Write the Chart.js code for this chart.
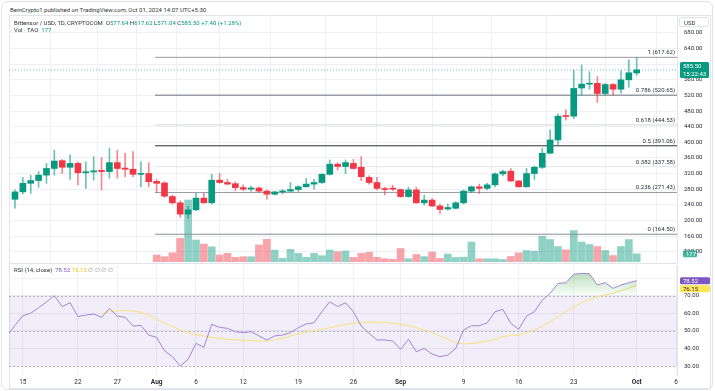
<!DOCTYPE html>
<html>
<head>
<meta charset="utf-8">
<script src="https://cdn.jsdelivr.net/npm/chart.js@4.4.1/dist/chart.umd.min.js"></script>
<style>
  html, body { margin: 0; padding: 0; background: #fff; }
  body { width: 715px; height: 391px; position: relative; overflow: hidden; font-family: Roboto, "Noto Sans", sans-serif; color: #2a2e39; }
  #card { position: absolute; left: 1px; top: 1px; width: 712px; height: 389px; border: 1px solid #e0e3eb; border-radius: 6px; box-sizing: border-box; }
  #frame { position: absolute; left: 9px; top: 15px; width: 702px; height: 374px; border: 1px solid #e0e3eb; box-sizing: border-box; }
  #sep { position: absolute; left: 9px; top: 263px; width: 668px; height: 1px; background: #e0e3eb; }
  #usd { position: absolute; left: 679px; top: 17px; width: 30px; height: 10px; border: 1px solid #e0e3eb; border-radius: 2px; box-sizing: border-box; background: #fff; z-index: 4; }
  #pane1 { position: absolute; left: 9px; top: 15px; }
  #pane2 { position: absolute; left: 9px; top: 263px; }
  .txt { position: absolute; font-size: 6px; line-height: 7px; white-space: nowrap; z-index: 5; }
  .up { color: #089981; }
  .dim { color: #9598a1; }
</style>
</head>
<body>
<div id="card"></div>
<div id="frame"></div>
<div class="txt" style="left:10px;top:6px;color:#333;">BeinCrypto1 published on TradingView.com, Oct 01, 2024 14:07 UTC+5:30</div>
<div id="pane1"><canvas id="priceChart" width="701" height="248"></canvas></div>
<div id="pane2"><canvas id="rsiChart" width="701" height="125"></canvas></div>
<div id="sep"></div>
<div id="usd"></div>
<div class="txt" style="left:14px;top:19px;">Bittensor / USD, 1D, CRYPTOCOM&nbsp; O<span class="up">577.64</span> H<span class="up">617.62</span> L<span class="up">571.04</span> C<span class="up">585.50</span> <span class="up">+7.40 (+1.28%)</span></div>
<div class="txt" style="left:14px;top:26px;">Vol · TAO&nbsp; <span class="up">177</span></div>
<div class="txt" style="left:684px;top:18.5px;color:#2a2e39;">USD</div>
<div class="txt" style="left:14px;top:266px;">RSI (14, close)&nbsp; <span style="color:#7e57c2">78.52</span> <span style="color:#f2c81e">76.15</span> <span class="dim">∅ ∅ ∅ ∅</span></div>

<script>
// ---- data (day index 0 = 2024-07-14, one candle per day) ----
const xTickDays   = [1, 8, 13, 18, 23, 29, 36, 43, 49, 57, 64, 71, 79, 84];
const xTickLabels = ['15', '22', '27', 'Aug', '6', '12', '19', '26', 'Sep', '9', '16', '23', 'Oct', '6'];
const monthLabels = ['Aug', 'Sep', 'Oct'];
const priceTicks  = [120, 160, 200, 240, 280, 320, 360, 400, 440, 480, 520, 560, 600, 640, 680];
const rsiTicks    = [30, 40, 50, 60, 70, 80];

const open = [254, 273, 295, 302, 316, 333, 353, 336, 346, 322,
  324, 328, 325, 348, 334, 331, 318, 320, 300, 296,
  261, 245, 216, 227, 257, 245, 303, 297, 294, 284,
  280, 283, 275, 267, 273, 275, 279, 286, 293, 297,
  318, 344, 338, 346, 336, 310, 297, 280, 282, 279,
  261, 278, 245, 252, 237, 229, 231, 245, 275, 286,
  282, 291, 319, 326, 301, 286, 320, 336, 372, 406,
  468, 467, 539, 549, 551, 525, 548, 536, 560, 577.64];
const high = [278, 310, 316, 325, 346, 380, 356, 368, 350, 350,
  363, 361, 385, 380, 372, 376, 350, 348, 305, 299,
  265, 250, 236, 269, 269, 318, 320, 305, 299, 291,
  288, 286, 278, 274, 279, 297, 289, 308, 305, 320,
  355, 348, 355, 356, 363, 314, 310, 285, 290, 280,
  285, 285, 265, 256, 242, 242, 248, 278, 288, 293,
  295, 322, 329, 333, 302, 333, 339, 385, 432, 473,
  483, 585, 598, 581, 568, 551, 551, 584, 611, 617.62];
const low = [231, 268, 269, 285, 295, 316, 320, 305, 291, 282,
  303, 278, 308, 308, 312, 312, 286, 286, 271, 259,
  242, 208, 205, 225, 244, 242, 295, 291, 276, 276,
  274, 272, 254, 265, 268, 272, 274, 285, 280, 295,
  316, 329, 320, 331, 302, 293, 278, 265, 276, 259,
  259, 244, 239, 235, 218, 226, 229, 242, 271, 269,
  278, 286, 314, 299, 285, 285, 305, 333, 370, 393,
  457, 461, 521, 536, 502, 521, 521, 526, 541, 571.04];
const close = [273, 295, 302, 316, 333, 352, 336, 346, 322, 324,
  327, 325, 348, 333, 331, 318, 320, 299, 295, 262,
  245, 216, 227, 257, 245, 303, 297, 293, 284, 280,
  283, 275, 267, 273, 275, 279, 286, 293, 297, 318,
  344, 338, 348, 333, 312, 297, 282, 279, 280, 261,
  278, 245, 252, 237, 228, 233, 245, 275, 286, 282,
  291, 319, 325, 301, 286, 320, 336, 372, 406, 467,
  466, 538, 549, 551, 525, 548, 536, 560, 578.1, 585.5];

// volume only starts on Aug 1 (day 18)
const volume = [null, null, null, null, null, null, null, null, null, null,
  null, null, null, null, null, null, null, null, 151, 115,
  200, 512, 1340, 475, 389, 330, 151, 188, 102, 115,
  115, 367, 490, 259, 80, 274, 188, 102, 188, 136,
  259, 222, 238, 102, 188, 210, 102, 71, 58, 292,
  71, 162, 117, 216, 76, 173, 97, 104, 432, 69,
  69, 69, 54, 119, 199, 248, 233, 557, 486, 335,
  264, 680, 432, 378, 335, 248, 140, 335, 486, 177];

// RSI starts one day before the first candle (clipped at the left edge)
const rsiStartDay = -1;
const rsi = [47.2, 53.1, 58.6, 60.0, 63.2, 66.4, 70.0, 63.8, 66.0, 58.1,
  59.0, 59.6, 57.7, 62.8, 58.4, 57.7, 52.7, 53.1, 47.6, 46.3,
  38.7, 35.3, 30.0, 33.8, 42.9, 40.6, 53.7, 52.0, 51.4, 49.5,
  49.0, 49.5, 47.1, 44.8, 47.1, 47.6, 49.0, 51.8, 53.9, 54.6,
  60.9, 66.6, 63.8, 66.0, 60.9, 52.7, 48.6, 44.8, 44.8, 44.2,
  39.5, 45.2, 38.1, 40.0, 36.8, 35.3, 36.2, 40.0, 50.5, 52.9,
  52.9, 54.6, 60.9, 62.2, 54.3, 50.9, 58.4, 60.9, 67.5, 71.3,
  77.0, 77.4, 82.2, 82.7, 82.5, 76.1, 77.4, 74.2, 76.1, 77.4,
  78.52];
const rsiMaStartDay = 11;
const rsiMa = [59.6, 60.9, 61.5, 61.5, 61.3, 60.5, 59.0, 56.5, 54.3, 52.4,
  50.5, 49.0, 47.8, 47.1, 46.3, 45.7, 45.2, 44.8, 44.8, 44.4,
  44.2, 44.2, 44.8, 45.7, 47.1, 48.2, 49.2, 50.1, 50.9, 51.8,
  52.7, 53.7, 54.3, 54.8, 55.0, 55.0, 54.8, 54.3, 53.7, 52.9,
  51.8, 50.5, 49.0, 47.1, 45.2, 43.3, 42.5, 42.9, 43.3, 44.2,
  45.2, 46.7, 47.4, 47.6, 49.0, 50.5, 52.7, 55.2, 58.1, 60.9,
  63.4, 66.0, 67.9, 69.4, 70.4, 71.3, 72.9, 74.2, 76.15];

const fibLevels = [0, 0.236, 0.382, 0.5, 0.618, 0.786, 1];
const fibPrices = [164.50, 271.43, 337.58, 391.06, 444.53, 520.65, 617.62];
const fibStartDay = 17.8;

// ---- look ----
const FONT = 'Roboto, "Noto Sans", sans-serif';
const TEAL = '#089981', RED = '#f23645';
const GRID = '#eef0f4';
const AXIS_W = 33;
const X_MIN = -0.76, X_MAX = 84.12;
const P_MIN = 93.4, P_MAX = 726.1;
const R_MIN = 24.88, R_MAX = 87.47;
const fibColors = ['#8a8d96', '#9a9ca4', '#e3e5ea', '#2a2e39', '#d6d8de', '#9a9ca4', '#9a9ca4'];
const fibWidths = [1, 1, 1, 1, 1, 1.4, 1];

const isUp = i => close[i] >= open[i];
const days = open.map((_, i) => i);

function xScale(showLabels) {
    return {
        type: 'linear', min: X_MIN, max: X_MAX, offset: false,
        afterBuildTicks: s => { s.ticks = xTickDays.map(v => ({ value: v })); },
        afterFit: s => { s.height = showLabels ? 13 : 0; s.paddingLeft = 0; s.paddingRight = 0; },
        grid: { color: GRID, drawTicks: false },
        border: { display: false },
        ticks: {
            display: showLabels, autoSkip: false, maxRotation: 0, padding: 3, color: '#2a2e39',
            font: c => ({
                family: FONT, size: 6.5,
                weight: c.tick && monthLabels.includes(xTickLabels[xTickDays.indexOf(c.tick.value)]) ? 'bold' : 'normal',
            }),
            callback: v => { const k = xTickDays.indexOf(v); return k >= 0 ? xTickLabels[k] : ''; },
        },
    };
}

function rightAxis(min, max, tickList, fmt) {
    return {
        type: 'linear', position: 'right', min, max,
        afterBuildTicks: s => { s.ticks = tickList.map(v => ({ value: v })); },
        afterFit: s => { s.width = AXIS_W; s.paddingTop = 0; s.paddingBottom = 0; },
        grid: { color: GRID, drawTicks: false },
        border: { display: true, color: '#e0e3eb' },
        ticks: { autoSkip: false, padding: 7, color: '#2a2e39', font: { family: FONT, size: 6 }, callback: fmt },
    };
}

function tag(ctx, x, y, w, h, bg, fg, lines) {
    ctx.fillStyle = bg;
    ctx.beginPath();
    ctx.roundRect(x, y - h / 2, w, h, 1.5);
    ctx.fill();
    ctx.fillStyle = fg;
    ctx.font = `6px ${FONT}`;
    ctx.textAlign = 'left';
    ctx.textBaseline = 'middle';
    const step = h / lines.length;
    lines.forEach((t, k) => ctx.fillText(t, x + 3, y - h / 2 + step * (k + 0.5) + 0.3));
}

// ==================================================
// PRICE + VOLUME PANE
// ==================================================
const fibLabelPlugin = {
    id: 'fibLabels',
    afterDatasetsDraw(chart) {
        const { ctx, chartArea, scales: { y } } = chart;
        ctx.save();
        ctx.font = `6px ${FONT}`;
        ctx.fillStyle = '#2a2e39';
        ctx.textAlign = 'right';
        ctx.textBaseline = 'bottom';
        fibLevels.forEach((lv, k) => {
            const py = y.getPixelForValue(fibPrices[k]);
            ctx.fillText(`${lv} (${fibPrices[k].toFixed(2)})`, chartArea.right - 2, py - 1.5);
        });
        ctx.restore();
    },
};

const priceTagPlugin = {
    id: 'priceTags',
    afterDraw(chart) {
        const { ctx, chartArea, scales: { y, yv } } = chart;
        const last = close.length - 1;
        ctx.save();
        tag(ctx, chartArea.right + 3, y.getPixelForValue(close[last]), 29, 16, TEAL, '#fff',
            [close[last].toFixed(2), '15:22:43']);
        tag(ctx, chartArea.right + 6, yv.getPixelForValue(volume[last]), 14, 7, 'rgba(8,153,129,0.75)', '#fff',
            [String(volume[last])]);
        ctx.restore();
    },
};

const fibDatasets = fibPrices.map((p, k) => ({
    type: 'line', yAxisID: 'y', order: 4,
    data: [{ x: fibStartDay, y: p }, { x: X_MAX, y: p }],
    borderColor: fibColors[k], borderWidth: fibWidths[k], pointRadius: 0,
}));

new Chart(document.getElementById('priceChart'), {
    data: {
        datasets: [
            {
                type: 'bar', yAxisID: 'yv', order: 5, grouped: false, barThickness: 7,
                data: days.map(i => ({ x: i, y: volume[i] })),
                backgroundColor: days.map(i => isUp(i) ? 'rgba(8,153,129,0.45)' : 'rgba(242,54,69,0.45)'),
            },
            ...fibDatasets,
            {
                type: 'line', yAxisID: 'y', order: 3,
                data: [{ x: X_MIN, y: close[close.length - 1] }, { x: X_MAX, y: close[close.length - 1] }],
                borderColor: 'rgba(8,153,129,0.6)', borderWidth: 1, borderDash: [1, 2], pointRadius: 0,
            },
            {
                type: 'bar', yAxisID: 'y', order: 2, grouped: false, barThickness: 1,
                data: days.map(i => ({ x: i, y: [low[i], high[i]] })),
                backgroundColor: days.map(i => isUp(i) ? 'rgba(8,153,129,0.6)' : 'rgba(242,54,69,0.6)'),
            },
            {
                type: 'bar', yAxisID: 'y', order: 1, grouped: false, barThickness: 6, minBarLength: 1,
                data: days.map(i => ({ x: i, y: [open[i], close[i]] })),
                backgroundColor: days.map(i => isUp(i) ? TEAL : RED),
            },
        ],
    },
    options: {
        responsive: false, animation: false, events: [],
        layout: { padding: { top: 0, bottom: 1, left: 0, right: 0 } },
        plugins: { legend: { display: false }, tooltip: { enabled: false } },
        scales: {
            x: xScale(false),
            y: rightAxis(P_MIN, P_MAX, priceTicks, v => v.toFixed(2)),
            yv: { type: 'linear', display: false, min: 0, max: 5340 },
        },
    },
    plugins: [fibLabelPlugin, priceTagPlugin],
});

// ==================================================
// RSI PANE
// ==================================================
const rsiBandPlugin = {
    id: 'rsiBand',
    beforeDatasetsDraw(chart) {
        const { ctx, chartArea, scales: { y } } = chart;
        const y70 = y.getPixelForValue(70), y30 = y.getPixelForValue(30);
        ctx.save();
        ctx.fillStyle = 'rgba(126,87,194,0.1)';
        ctx.fillRect(chartArea.left, y70, chartArea.right - chartArea.left, y30 - y70);
        ctx.strokeStyle = 'rgba(120,123,134,0.5)';
        ctx.lineWidth = 1;
        ctx.setLineDash([2, 2]);
        [70, 50, 30].forEach(v => {
            const py = Math.round(y.getPixelForValue(v)) + 0.5;
            ctx.beginPath();
            ctx.moveTo(chartArea.left, py);
            ctx.lineTo(chartArea.right, py);
            ctx.stroke();
        });
        ctx.restore();
    },
    afterDraw(chart) {
        const { ctx, chartArea, scales: { y } } = chart;
        const a = y.getPixelForValue(rsi[rsi.length - 1]);
        const b = Math.max(y.getPixelForValue(rsiMa[rsiMa.length - 1]), a + 8);
        ctx.save();
        tag(ctx, chartArea.right + 3, a, 30, 7, '#7e57c2', '#fff', [rsi[rsi.length - 1].toFixed(2)]);
        tag(ctx, chartArea.right + 3, b, 30, 7, '#fde55a', '#2a2e39', [rsiMa[rsiMa.length - 1].toFixed(2)]);
        ctx.restore();
    },
};

new Chart(document.getElementById('rsiChart'), {
    type: 'line',
    data: {
        datasets: [
            {
                data: rsi.map((v, k) => ({ x: rsiStartDay + k, y: v })),
                borderColor: '#a085d6', borderWidth: 1, pointRadius: 0, order: 1,
                fill: { target: { value: 70 }, below: 'rgba(0,0,0,0)' },
                backgroundColor: c => {
                    const { ctx, chartArea, scales } = c.chart;
                    if (!chartArea || !scales.y) return 'rgba(76,175,80,0.2)';
                    const g = ctx.createLinearGradient(0, scales.y.getPixelForValue(83), 0, scales.y.getPixelForValue(70));
                    g.addColorStop(0, 'rgba(76,175,80,0.38)');
                    g.addColorStop(1, 'rgba(76,175,80,0.03)');
                    return g;
                },
            },
            {
                data: rsiMa.map((v, k) => ({ x: rsiMaStartDay + k, y: v })),
                borderColor: '#f8e27a', borderWidth: 1, pointRadius: 0, order: 2, fill: false,
            },
        ],
    },
    options: {
        responsive: false, animation: false, events: [],
        layout: { padding: { top: 2, bottom: 0, left: 0, right: 0 } },
        plugins: { legend: { display: false }, tooltip: { enabled: false } },
        scales: {
            x: xScale(true),
            y: rightAxis(R_MIN, R_MAX, rsiTicks, v => v === 80 ? '' : v.toFixed(2)),
        },
    },
    plugins: [rsiBandPlugin],
});
</script>
</body>
</html>
